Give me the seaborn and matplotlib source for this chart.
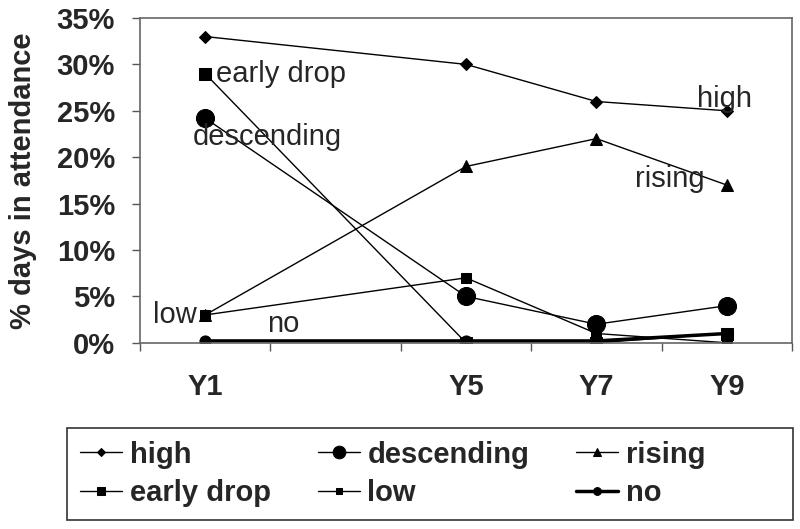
import numpy as np
import matplotlib.pyplot as plt
import seaborn as sns
import pandas as pd
from matplotlib.ticker import FixedLocator, PercentFormatter
from matplotlib.patches import Rectangle

sns.set_style('white')
plt.rcParams['font.family'] = ['Liberation Sans', 'DejaVu Sans']

#%% data
years = [1, 5, 7, 9]
year_labels = ['Y1', 'Y5', 'Y7', 'Y9']
high = [33, 30, 26, 25]
descending = [24.2, 5, 2, 4]
rising = [3, 19, 22, 17]
early_drop = [29, 0, 0, 1]
low = [3, 7, 1, 0]
no = [0.2, 0.2, 0.2, 1]

series = {'high': high, 'descending': descending, 'rising': rising,
          'early drop': early_drop, 'low': low, 'no': no}
df = pd.DataFrame([(k, x, v) for k, vals in series.items() for x, v in zip(years, vals)],
                  columns=['group', 'year', 'pct'])

# marker, marker size, line width
styles = {'high': ('D', 6, 1.0),
          'descending': ('o', 13, 1.0),
          'rising': ('^', 9, 1.0),
          'early drop': ('s', 8, 1.0),
          'low': ('s', 7, 1.0),
          'no': ('o', 8, 2.5)}

#%% plot
fig = plt.figure(figsize=(8, 5.29), dpi=100)
ax = fig.add_axes([0.175, 0.352, 0.815, 0.614])

for name in series:
    m, ms, lw = styles[name]
    sns.lineplot(data=df[df.group == name], x='year', y='pct', ax=ax,
                 color='black', marker=m, markersize=ms, linewidth=lw,
                 markeredgecolor='black', label=name)

ax.set_xlim(0, 10)
ax.set_ylim(0, 35)
ax.xaxis.set_major_locator(FixedLocator(years))
ax.set_xticklabels(year_labels)
ax.xaxis.set_minor_locator(FixedLocator([0, 2, 4, 6, 8, 10]))
ax.tick_params(axis='x', which='major', length=0, pad=22)
ax.tick_params(axis='x', which='minor', length=6, direction='out', width=1, color='#555555', bottom=True)
ax.yaxis.set_major_locator(FixedLocator(np.arange(0, 36, 5)))
ax.yaxis.set_major_formatter(PercentFormatter(decimals=0))
ax.tick_params(axis='y', length=6, direction='out', width=1, color='#555555', left=True, pad=12)
for lab in ax.get_xticklabels() + ax.get_yticklabels():
    lab.set_fontsize(21)
    lab.set_fontweight('bold')
ax.set_xlabel('')
ax.set_ylabel('% days in attendance', fontsize=21, fontweight='bold', labelpad=14)
for s in ax.spines.values():
    s.set_color('#666666')
    s.set_linewidth(1.2)

# in-plot labels
ax.text(1.17, 29, 'early drop', fontsize=21, va='center', ha='left')
ax.text(0.81, 22.2, 'descending', fontsize=21, va='center', ha='left')
ax.text(0.87, 3.0, 'low', fontsize=21, va='center', ha='right')
ax.text(2.19, 2.0, 'no', fontsize=21, va='center', ha='center')
ax.text(8.97, 26.3, 'high', fontsize=21, va='center', ha='center')
ax.text(8.13, 17.7, 'rising', fontsize=21, va='center', ha='center')

# legend filled row by row (3 columns), box drawn separately
h, l = ax.get_legend_handles_labels()
ax.get_legend().remove()
order = [0, 3, 1, 4, 2, 5]
fig.legend([h[i] for i in order], [l[i] for i in order], ncol=3, loc='center left',
           bbox_to_anchor=(0.1, 0.104), frameon=False,
           prop={'weight': 'bold', 'size': 21}, handlelength=1.44, markerscale=0.7,
           handletextpad=0.27, borderpad=0, borderaxespad=0,
           labelspacing=0.37, columnspacing=1.6)
fig.patches.append(Rectangle((0.084, 0.017), 0.9075, 0.174, transform=fig.transFigure,
                             fill=False, edgecolor='#333333', linewidth=1.2))

plt.savefig('out.png', dpi=100)
